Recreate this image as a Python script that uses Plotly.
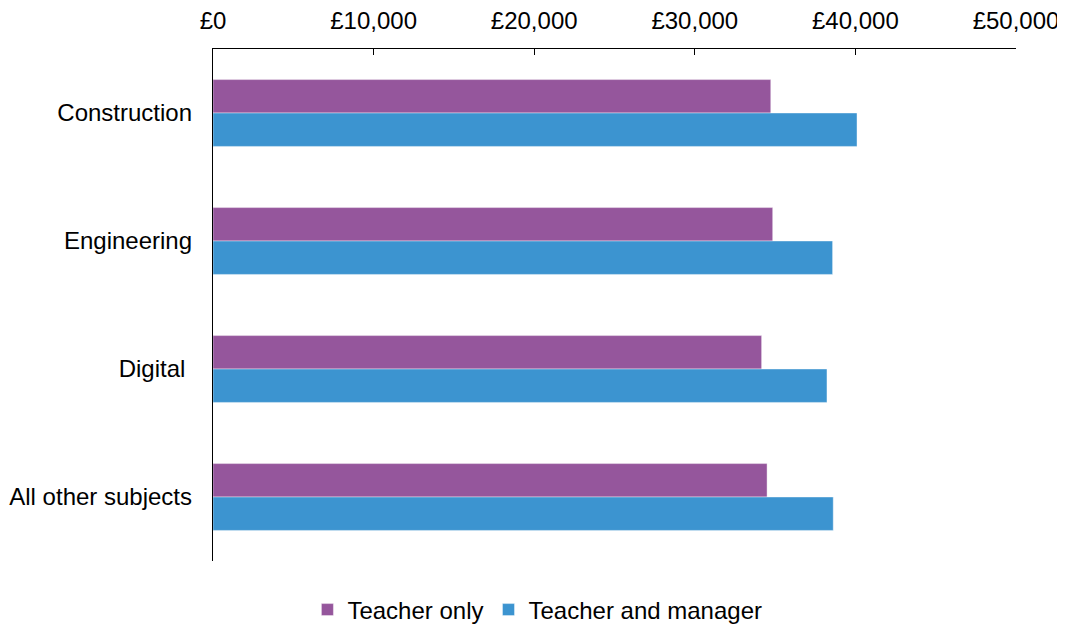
import plotly.graph_objects as go

subjects = ["Construction", "Engineering", "Digital", "All other subjects"]
tick_labels = ["Construction", "Engineering", "Digital\u00a0", "All other subjects"]
teacher_only = [34730, 34850, 34160, 34500]
teacher_and_manager = [40100, 38580, 38230, 38620]

x_ticks = [0, 10000, 20000, 30000, 40000, 50000]
x_tick_labels = ["£0", "£10,000", "£20,000", "£30,000", "£40,000", "£50,000"]

fig = go.Figure()
fig.add_trace(
    go.Bar(
        y=subjects,
        x=teacher_only,
        orientation="h",
        name="Teacher only",
        marker=dict(color="#95569C", line=dict(color="rgba(255,255,255,0.4)", width=1)),
    )
)
fig.add_trace(
    go.Bar(
        y=subjects,
        x=teacher_and_manager,
        orientation="h",
        name="Teacher and manager",
        marker=dict(color="#3C94D0", line=dict(color="rgba(255,255,255,0.4)", width=1)),
    )
)

# page body adds an 8px offset, so the figure is 8px smaller than the window
fig.update_layout(
    width=1057,
    height=617,
    margin=dict(l=205, r=49, t=41, b=64),
    barmode="group",
    bargap=0.478,
    bargroupgap=0,
    plot_bgcolor="white",
    paper_bgcolor="white",
    font=dict(family="Liberation Sans, Arial, sans-serif", size=24, color="#000000"),
    xaxis=dict(
        side="top",
        range=[0, 50000],
        tickvals=x_ticks,
        ticktext=x_tick_labels,
        ticks="inside",
        ticklen=6,
        tickwidth=1.3,
        tickcolor="black",
        showline=True,
        linecolor="black",
        linewidth=1.3,
        showgrid=False,
        zeroline=False,
        ticklabelstandoff=9,
        automargin=False,
    ),
    yaxis=dict(
        autorange="reversed",
        tickvals=subjects,
        ticktext=tick_labels,
        showline=True,
        linecolor="black",
        linewidth=1.3,
        showgrid=False,
        ticks="",
        ticklabelstandoff=15,
        automargin=False,
    ),
    legend=dict(
        orientation="h",
        x=0.404,
        xanchor="center",
        yref="container",
        y=0.0243,
        yanchor="middle",
        font=dict(size=24),
    ),
)

fig.write_html("out.html")
